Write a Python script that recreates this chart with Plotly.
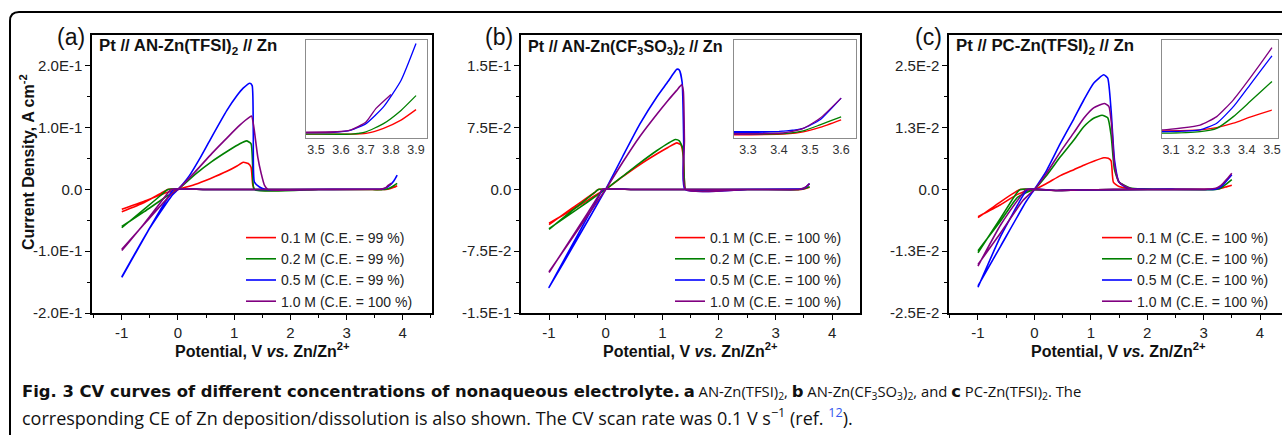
import plotly.graph_objects as go

W, H = 1282, 435

# ---------------- Panel (a): Pt // AN-Zn(TFSI)2 // Zn ----------------
A_RED_FWD_V = [-1.0, -0.6, -0.2, 0.0, 0.3, 0.57, 0.87, 1.05, 1.16, 1.25, 1.3, 1.33, 1.36, 2.5, 3.46, 3.64, 3.7, 3.77, 3.84, 3.9]
A_RED_FWD_I = [-0.032, -0.019, -0.005, 0.0, 0.008, 0.0174, 0.0293, 0.038, 0.044, 0.042, 0.036, 0.008, 0.0, 0.0, -0.0002, -0.0002, 0.0, 0.0013, 0.0034, 0.0061]
A_RED_RET_V = [3.6, 2.0, 0.5, -0.18, -0.3, -0.6, -1.0]
A_RED_RET_I = [-0.0002, 0.0, 0.0, 0.0, -0.006, -0.021, -0.036]

A_GRN_FWD_V = [-1.0, -0.6, -0.2, 0.0, 0.3, 0.6, 0.9, 1.1, 1.22, 1.3, 1.33, 1.36, 2.5, 3.46, 3.64, 3.7, 3.77, 3.84, 3.9]
A_GRN_FWD_I = [-0.060, -0.036, -0.011, 0.0, 0.024, 0.045, 0.063, 0.074, 0.0786, 0.074, 0.035, 0.0, 0.0, -0.0002, -0.0002, 0.0004, 0.0025, 0.0059, 0.0097]
A_GRN_RET_V = [3.6, 2.0, 0.5, -0.18, -0.3, -0.6, -1.0]
A_GRN_RET_I = [-0.0002, 0.0, 0.0, 0.0, -0.009, -0.032, -0.062]

A_BLU_FWD_V = [-1.0, -0.53, -0.1, 0.0, 0.2, 0.4, 0.57, 0.87, 1.05, 1.16, 1.28, 1.32, 1.34, 1.36, 1.45, 1.57, 2.5, 3.46, 3.57, 3.64, 3.7, 3.77, 3.84, 3.9]
A_BLU_FWD_I = [-0.1415, -0.0667, -0.009, 0.0, 0.022, 0.052, 0.080, 0.128, 0.152, 0.164, 0.172, 0.168, 0.09, 0.012, 0.004, 0.0, 0.0, 0.0002, 0.00025, 0.00084, 0.0025, 0.0068, 0.0136, 0.0231]
A_BLU_RET_V = [3.5, 2.0, 0.5, -0.08, -0.15, -0.5, -1.0]
A_BLU_RET_I = [0.0002, 0.0, 0.0, 0.0, -0.009, -0.062, -0.1425]

A_PUR_FWD_V = [-1.0, -0.6, -0.1, 0.0, 0.3, 0.6, 0.9, 1.1, 1.2, 1.28, 1.31, 1.35, 1.42, 1.48, 1.54, 1.6, 2.5, 3.46, 3.57, 3.64, 3.7, 3.74, 3.8]
A_PUR_FWD_I = [-0.097, -0.056, -0.006, 0.0, 0.028, 0.058, 0.086, 0.104, 0.112, 0.1175, 0.1187, 0.101, 0.0525, 0.026, 0.0065, 0.0, 0.0, 0.0002, 0.0003, 0.0009, 0.0029, 0.0064, 0.0100]
A_PUR_RET_V = [3.6, 2.0, 0.5, -0.12, -0.2, -0.6, -1.0]
A_PUR_RET_I = [0.0005, 0.0, 0.0, 0.0, -0.008, -0.055, -0.099]

# ---------------- Panel (b): Pt // AN-Zn(CF3SO3)2 // Zn ----------------
B_RED_FWD_V = [-1.0, -0.5, -0.13, 0.0, 0.3, 0.6, 0.9, 1.1, 1.256, 1.33, 1.37, 1.39, 1.41, 2.5, 3.26, 3.425, 3.478, 3.532, 3.6]
B_RED_FWD_I = [-0.041, -0.021, -0.005, 0.0, 0.0155, 0.030, 0.043, 0.051, 0.0565, 0.054, 0.040, 0.010, 0.0, 0.0, -0.0003, -0.0001, 0.0003, 0.0012, 0.0027]
B_RED_RET_V = [3.4, 2.0, 0.5, -0.13, -0.2, -0.6, -1.0]
B_RED_RET_I = [-0.0002, 0.0, 0.0, 0.0, -0.004, -0.023, -0.0427]

B_GRN_FWD_V = [-1.0, -0.5, -0.13, 0.0, 0.3, 0.6, 0.9, 1.1, 1.23, 1.3, 1.36, 1.39, 1.41, 2.5, 3.26, 3.425, 3.478, 3.532, 3.6]
B_GRN_FWD_I = [-0.0475, -0.024, -0.006, 0.0, 0.016, 0.032, 0.047, 0.056, 0.0606, 0.059, 0.050, 0.010, 0.0, 0.0, -0.0002, 0.0, 0.0005, 0.0017, 0.0033]
B_GRN_RET_V = [3.4, 2.0, 0.5, -0.13, -0.2, -0.6, -1.0]
B_GRN_RET_I = [0.0, 0.0, 0.0, 0.0, -0.004, -0.026, -0.0484]

B_BLU_FWD_V = [-1.0, -0.5, -0.05, 0.0, 0.3, 0.6, 0.9, 1.1, 1.2, 1.256, 1.3, 1.35, 1.38, 1.40, 2.5, 3.26, 3.425, 3.478, 3.532, 3.6]
B_BLU_FWD_I = [-0.119, -0.060, -0.006, 0.0, 0.040, 0.079, 0.112, 0.131, 0.141, 0.146, 0.145, 0.13, 0.05, 0.0, 0.0, 0.0001, 0.0005, 0.001, 0.0027, 0.0070]
B_BLU_RET_V = [3.4, 2.0, 0.5, -0.05, -0.12, -0.5, -1.0]
B_BLU_RET_I = [0.0004, 0.0, 0.0, 0.0, -0.008, -0.056, -0.119]

B_PUR_FWD_V = [-1.0, -0.5, -0.05, 0.0, 0.3, 0.6, 0.9, 1.1, 1.25, 1.34, 1.37, 1.39, 1.41, 2.5, 3.26, 3.425, 3.478, 3.532, 3.6]
B_PUR_FWD_I = [-0.100, -0.050, -0.005, 0.0, 0.033, 0.064, 0.091, 0.108, 0.120, 0.127, 0.12, 0.06, 0.0, 0.0, -0.0002, 0.0002, 0.001, 0.003, 0.007]
B_PUR_RET_V = [3.4, 2.0, 0.5, -0.06, -0.12, -0.5, -1.0]
B_PUR_RET_I = [0.0, 0.0, 0.0, 0.0, -0.007, -0.048, -0.1008]

# ---------------- Panel (c): Pt // PC-Zn(TFSI)2 // Zn ----------------
C_RED_FWD_V = [-1.0, -0.6, -0.3, -0.1, 0.0, 0.2, 0.46, 0.7, 0.875, 1.05, 1.23, 1.31, 1.36, 1.4, 1.5, 1.7, 2.5, 3.07, 3.215, 3.281, 3.347, 3.413, 3.5]
C_RED_FWD_I = [-0.0055, -0.0031, -0.0010, -0.0002, 0.0, 0.0011, 0.0028, 0.0040, 0.0049, 0.0057, 0.0064, 0.0063, 0.0058, 0.0015, 0.0006, 0.0002, 0.0, 0.00003, 0.00007, 0.00016, 0.00033, 0.00057, 0.00085]
C_RED_RET_V = [3.0, 2.0, 0.8, 0.4, -0.25, -0.32, -0.6, -1.0]
C_RED_RET_I = [0.00002, 0.0, -0.0001, -0.0002, 0.0, -0.0004, -0.0025, -0.0057]

C_GRN_FWD_V = [-1.0, -0.6, -0.3, -0.1, 0.0, 0.2, 0.46, 0.7, 0.875, 1.05, 1.2, 1.3, 1.36, 1.42, 1.5, 1.7, 2.5, 3.07, 3.215, 3.281, 3.347, 3.413, 3.5]
C_GRN_FWD_I = [-0.0124, -0.0064, -0.0016, -0.0004, 0.0, 0.0026, 0.0066, 0.0100, 0.0127, 0.0144, 0.0150, 0.0145, 0.011, 0.004, 0.0015, 0.0003, 0.0, -0.00006, 0.0, 0.00013, 0.00059, 0.00118, 0.00197]
C_GRN_RET_V = [3.0, 2.0, 0.8, 0.4, -0.25, -0.32, -0.6, -1.0]
C_GRN_RET_I = [-0.00005, 0.0, -0.0001, -0.0002, 0.0, -0.0008, -0.0058, -0.0128]

C_BLU_FWD_V = [-1.0, -0.6, -0.15, 0.0, 0.2, 0.46, 0.7, 0.875, 1.05, 1.23, 1.3, 1.36, 1.42, 1.5, 1.6, 1.7, 2.5, 3.07, 3.215, 3.281, 3.347, 3.413, 3.5]
C_BLU_FWD_I = [-0.0195, -0.0115, -0.0025, 0.0, 0.0035, 0.0093, 0.0143, 0.0181, 0.0215, 0.0232, 0.0225, 0.016, 0.006, 0.0015, 0.0006, 0.0002, 0.0, 0.0, 0.00007, 0.00033, 0.00098, 0.00184, 0.00298]
C_BLU_RET_V = [3.0, 2.0, 0.8, 0.4, -0.12, -0.2, -0.6, -1.0]
C_BLU_RET_I = [0.0, 0.0, -0.0001, -0.0002, 0.0, -0.0012, -0.0095, -0.0198]

C_PUR_FWD_V = [-1.0, -0.6, -0.2, 0.0, 0.2, 0.46, 0.7, 0.875, 1.05, 1.24, 1.32, 1.37, 1.42, 1.5, 1.7, 2.5, 3.07, 3.215, 3.281, 3.347, 3.413, 3.5]
C_PUR_FWD_I = [-0.0152, -0.0088, -0.0022, 0.0, 0.0030, 0.0076, 0.0115, 0.0144, 0.0165, 0.0174, 0.0168, 0.013, 0.005, 0.0015, 0.0002, 0.0, 0.00007, 0.00026, 0.00059, 0.00125, 0.0021, 0.0033]
C_PUR_RET_V = [3.0, 2.0, 0.8, 0.4, -0.15, -0.22, -0.6, -1.0]
C_PUR_RET_I = [0.00005, 0.0, -0.0001, -0.0002, 0.0, -0.001, -0.0072, -0.0155]

LEGEND_A = ["0.1 M (C.E. = 99 %)", "0.2 M (C.E. = 99 %)", "0.5 M (C.E. = 99 %)", "1.0 M (C.E. = 100 %)"]
LEGEND_B = ["0.1 M (C.E. = 100 %)", "0.2 M (C.E. = 100 %)", "0.5 M (C.E. = 100 %)", "1.0 M (C.E. = 100 %)"]
LEGEND_C = ["0.1 M (C.E. = 100 %)", "0.2 M (C.E. = 100 %)", "0.5 M (C.E. = 100 %)", "1.0 M (C.E. = 100 %)"]
COLORS = ["#ff0000", "#008000", "#0000ff", "#800080"]

TITLES = ["Pt // AN-Zn(TFSI)<sub>2</sub> // Zn",
          "Pt // AN-Zn(CF<sub>3</sub>SO<sub>3</sub>)<sub>2</sub> // Zn",
          "Pt // PC-Zn(TFSI)<sub>2</sub> // Zn"]
PANEL_LABELS = ["(a)", "(b)", "(c)"]

A_YTICKS = [-0.2, -0.1, 0.0, 0.1, 0.2]
A_YTEXT = ["-2.0E-1", "-1.0E-1", "0.0", "1.0E-1", "2.0E-1"]
B_YTICKS = [-0.15, -0.075, 0.0, 0.075, 0.15]
B_YTEXT = ["-1.5E-1", "-7.5E-2", "0.0", "7.5E-2", "1.5E-1"]
C_YTICKS = [-0.025, -0.0125, 0.0, 0.0125, 0.025]
C_YTEXT = ["-2.5E-2", "-1.3E-2", "0.0", "1.3E-2", "2.5E-2"]
XTICKS = [-1, 0, 1, 2, 3, 4]
XMINOR = [-1.5, -0.5, 0.5, 1.5, 2.5, 3.5, 4.5]

# ----------------------------------------------------------------------
def px_x(p):
    return p / W


def px_y(p):
    return 1 - p / H


def loop(fv, fi, rv, ri):
    tail = [(v, i) for v, i in zip(fv, fi) if v > rv[0]]
    xs = list(fv) + [v for v, _ in reversed(tail)] + list(rv)
    ys = list(fi) + [i for _, i in reversed(tail)] + list(ri)
    return xs, ys


PANELS = [
    [(A_RED_FWD_V, A_RED_FWD_I, A_RED_RET_V, A_RED_RET_I),
     (A_GRN_FWD_V, A_GRN_FWD_I, A_GRN_RET_V, A_GRN_RET_I),
     (A_BLU_FWD_V, A_BLU_FWD_I, A_BLU_RET_V, A_BLU_RET_I),
     (A_PUR_FWD_V, A_PUR_FWD_I, A_PUR_RET_V, A_PUR_RET_I)],
    [(B_RED_FWD_V, B_RED_FWD_I, B_RED_RET_V, B_RED_RET_I),
     (B_GRN_FWD_V, B_GRN_FWD_I, B_GRN_RET_V, B_GRN_RET_I),
     (B_BLU_FWD_V, B_BLU_FWD_I, B_BLU_RET_V, B_BLU_RET_I),
     (B_PUR_FWD_V, B_PUR_FWD_I, B_PUR_RET_V, B_PUR_RET_I)],
    [(C_RED_FWD_V, C_RED_FWD_I, C_RED_RET_V, C_RED_RET_I),
     (C_GRN_FWD_V, C_GRN_FWD_I, C_GRN_RET_V, C_GRN_RET_I),
     (C_BLU_FWD_V, C_BLU_FWD_I, C_BLU_RET_V, C_BLU_RET_I),
     (C_PUR_FWD_V, C_PUR_FWD_I, C_PUR_RET_V, C_PUR_RET_I)],
]
LEGENDS = [LEGEND_A, LEGEND_B, LEGEND_C]
LEGEND_IDS = ["legend", "legend2", "legend3"]

fig = go.Figure()
for p, series in enumerate(PANELS):
    main_ax = "" if p == 0 else str(p + 1)
    inset_ax = str(p + 4)
    for s, (fv, fi, rv, ri) in enumerate(series):
        xs, ys = loop(fv, fi, rv, ri)
        fig.add_trace(go.Scatter(
            x=xs, y=ys, mode="lines", name=LEGENDS[p][s],
            line=dict(color=COLORS[s], width=1.6, shape="spline", smoothing=0.5),
            xaxis="x" + main_ax, yaxis="y" + main_ax,
            legend=LEGEND_IDS[p], hoverinfo="skip"))
        fig.add_trace(go.Scatter(
            x=xs, y=ys, mode="lines", showlegend=False,
            line=dict(color=COLORS[s], width=1.3, shape="spline", smoothing=0.5),
            xaxis="x" + inset_ax, yaxis="y" + inset_ax, hoverinfo="skip"))

FONT = "Liberation Sans, Arial, sans-serif"
TICKFONT = dict(family=FONT, size=15, color="#222")

main_geom = [
    dict(x0=92, x1=432, xr=[-1.53, 4.52], yr=[-0.2, 0.25], yt=A_YTICKS, ytext=A_YTEXT, ymirror=True),
    dict(x0=521, x1=860, xr=[-1.495, 4.49], yr=[-0.15, 0.1875], yt=B_YTICKS, ytext=B_YTEXT, ymirror=True),
    dict(x0=949, x1=W, xr=[-1.514, 4.39], yr=[-0.025, 0.03125], yt=C_YTICKS, ytext=C_YTEXT, ymirror=False),
]
Y0, Y1 = 35, 313
layout = {}
for p, g in enumerate(main_geom):
    suf = "" if p == 0 else str(p + 1)
    ysuf = "y" + suf
    xsuf = "x" + suf
    yt = g["yt"]
    yminor = [(yt[k] + yt[k + 1]) / 2 for k in range(len(yt) - 1)]
    layout["xaxis" + suf] = dict(
        domain=[px_x(g["x0"]), px_x(g["x1"])], range=g["xr"], anchor=ysuf, automargin=False,
        showgrid=False, zeroline=False, showline=True, linecolor="black", linewidth=1.5,
        mirror=True, ticks="outside", ticklen=5, tickwidth=1.2, tickcolor="black",
        tickmode="array", tickvals=XTICKS, ticktext=[str(v) for v in XTICKS],
        tickfont=TICKFONT,
        minor=dict(tickvals=XMINOR, ticks="outside", ticklen=3, tickwidth=1, tickcolor="black"))
    layout["yaxis" + suf] = dict(
        domain=[px_y(Y1), px_y(Y0)], range=g["yr"], anchor=xsuf, automargin=False,
        showgrid=False, zeroline=False, showline=True, linecolor="black", linewidth=1.5,
        mirror=g["ymirror"], ticks="outside", ticklen=5, tickwidth=1.2, tickcolor="black",
        tickmode="array", tickvals=yt, ticktext=g["ytext"], tickfont=TICKFONT,
        minor=dict(tickvals=yminor, ticks="outside", ticklen=3, tickwidth=1, tickcolor="black"))

inset_geom = [
    dict(x0=306, x1=427, xr=[3.46, 3.944], yr=[-0.0012, 0.024], dt=0.1, t0=3.5),
    dict(x0=734, x1=856, xr=[3.255, 3.648], yr=[-0.0009, 0.0185], dt=0.1, t0=3.3),
    dict(x0=1162, x1=1278, xr=[3.064, 3.524], yr=[-0.00025, 0.0036], dt=0.1, t0=3.1),
]
for k, g in enumerate(inset_geom):
    n = str(k + 4)
    layout["xaxis" + n] = dict(
        domain=[px_x(g["x0"]), px_x(g["x1"])], range=g["xr"], anchor="y" + n, automargin=False,
        showgrid=False, zeroline=False, showline=True, linecolor="#8c8c8c", linewidth=1,
        mirror=True, ticks="", tick0=g["t0"], dtick=g["dt"], tickformat=".1f",
        tickfont=dict(family=FONT, size=12.5, color="#333"))
    layout["yaxis" + n] = dict(
        domain=[px_y(138), px_y(40)], range=g["yr"], anchor="x" + n, automargin=False,
        showgrid=False, zeroline=False, showline=True, linecolor="#8c8c8c", linewidth=1,
        mirror=True, ticks="", showticklabels=False)

legend_x = [248, 677, 1104]
for k, lid in enumerate(LEGEND_IDS):
    layout[lid] = dict(
        x=px_x(legend_x[k] - 7), y=px_y(222), xanchor="left", yanchor="top",
        bgcolor="rgba(0,0,0,0)", font=dict(family=FONT, size=14, color="#222"),
        tracegroupgap=0, itemwidth=30)

annotations = []
label_x = [71, 499, 928]
title_x = [97, 526, 954]
title_size = [16.8, 16.2, 16.8]
xtitle_c = [262, 690, 1118]


def ann(text, xp, yp, size, family=FONT, xanchor="center", angle=0):
    return dict(text=text, x=px_x(xp), y=px_y(yp), xref="paper", yref="paper",
                showarrow=False, xanchor=xanchor, yanchor="middle", textangle=angle,
                font=dict(family=family, size=size, color="#111"))


for k in range(3):
    annotations.append(ann(PANEL_LABELS[k], label_x[k], 37, 23))
    annotations.append(ann("<b>" + TITLES[k] + "</b>", title_x[k], 47, title_size[k], xanchor="left"))
    annotations.append(ann("<b>Potential, V <i>vs.</i> Zn/Zn<sup>2+</sup></b>", xtitle_c[k], 350, 16))
annotations.append(ann("<b>Current Density, A cm<sup>-2</sup></b>", 27, 162, 16, angle=-90))

BOLD_CAP = "<span style=\"font-family:'DejaVu Sans';font-size:16.4px\"><b>{}</b></span>"
CAPTION_1 = (BOLD_CAP.format("Fig. 3 CV curves of different concentrations of nonaqueous electrolyte.") + " "
             + BOLD_CAP.format("a") + " AN-Zn(TFSI)<sub>2</sub>, " + BOLD_CAP.format("b")
             + " AN-Zn(CF<sub>3</sub>SO<sub>3</sub>)<sub>2</sub>, and " + BOLD_CAP.format("c")
             + " PC-Zn(TFSI)<sub>2</sub>. The")
CAPTION_2 = ("corresponding CE of Zn deposition/dissolution is also shown. The CV scan rate was "
             "0.1 V s<sup>\u22121</sup> (ref. <span style='color:#3355ee'><sup>12</sup></span>).")
annotations.append(ann(CAPTION_1, 20, 392, 14.8, family="Open Sans, sans-serif", xanchor="left"))
annotations.append(ann(CAPTION_2, 20, 417, 18, family="Open Sans, sans-serif", xanchor="left"))

r_x = 9 / W
r_y = 9 / H
fx, fy = px_x(10), px_y(12)
frame_path = (f"M {fx},-0.1 L {fx},{fy - r_y} Q {fx},{fy} {fx + r_x},{fy} L 1.1,{fy}")

fig.update_layout(
    template="none",
    width=W, height=H, margin=dict(l=0, r=0, t=0, b=0, pad=0, autoexpand=False),
    paper_bgcolor="white", plot_bgcolor="white",
    font=dict(family=FONT, color="#222"),
    annotations=annotations,
    shapes=[dict(type="path", path=frame_path, xref="paper", yref="paper",
                 line=dict(color="black", width=2))],
    **layout)

fig.write_html("out.html")
